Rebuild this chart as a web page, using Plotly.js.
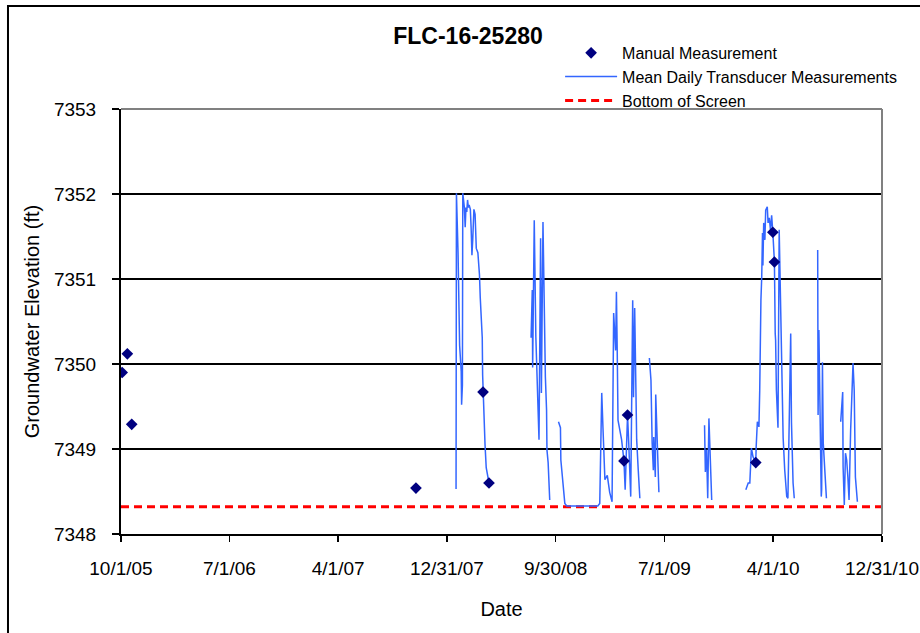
<!DOCTYPE html>
<html>
<head>
<meta charset="utf-8">
<script src="https://cdn.plot.ly/plotly-3.0.1.min.js"></script>
<style>html,body{margin:0;padding:0;background:#fff;}#chart{width:920px;height:633px;}</style>
</head>
<body>
<div id="chart"></div>
<script>
// ---- Data ----
const tickDates = ['2005-10-01','2006-07-01','2007-04-01','2007-12-31','2008-09-30','2009-07-01','2010-04-01','2010-12-31'];
const tickLabels = ['10/1/05','7/1/06','4/1/07','12/31/07','9/30/08','7/1/09','4/1/10','12/31/10'];
const elevationTicks = [7348, 7349, 7350, 7351, 7352, 7353];

const manualDates = ['2005-10-04','2005-10-17','2005-10-28','2007-10-14','2008-03-31','2008-04-15','2009-03-21','2009-03-30','2010-02-16','2010-03-31','2010-04-04'];
const manualValues = [7349.90, 7350.12, 7349.29, 7348.54, 7349.67, 7348.60, 7348.86, 7349.40, 7348.84, 7351.55, 7351.20];

const seg2008aDates = ['2008-01-23','2008-01-24','2008-01-28','2008-02-01','2008-02-05','2008-02-06','2008-02-08','2008-02-09','2008-02-13','2008-02-15','2008-02-17','2008-02-19','2008-02-21','2008-02-23','2008-02-25','2008-02-28','2008-03-01','2008-03-03','2008-03-05','2008-03-08','2008-03-11','2008-03-14','2008-03-18','2008-03-22','2008-03-24','2008-03-26','2008-03-29','2008-03-30','2008-03-31','2008-04-02','2008-04-05','2008-04-08','2008-04-12','2008-04-15'];
const seg2008aValues = [7348.53,7352.01,7351.32,7350.22,7349.91,7349.52,7349.75,7352.01,7351.84,7351.61,7351.84,7351.79,7351.93,7351.84,7351.87,7351.82,7351.60,7351.28,7351.46,7351.82,7351.76,7351.36,7351.31,7351.05,7350.78,7350.54,7350.31,7349.87,7349.67,7349.36,7349.05,7348.78,7348.69,7348.60];

const seg2008bDates = ['2008-07-30','2008-08-02','2008-08-03','2008-08-07','2008-08-11','2008-08-15','2008-08-19','2008-08-23','2008-08-25','2008-08-29','2008-09-01','2008-09-04','2008-09-07','2008-09-08','2008-09-11','2008-09-13','2008-09-15'];
const seg2008bValues = [7350.31,7350.87,7349.96,7351.69,7350.32,7349.69,7349.11,7351.48,7349.66,7351.67,7350.64,7349.85,7349.46,7348.99,7348.84,7348.55,7348.40];

const seg2009aDates = ['2008-10-07','2008-10-12','2008-10-13','2008-10-16','2008-10-19','2008-10-23','2008-10-28','2009-01-14','2009-01-19','2009-01-24','2009-01-27','2009-02-01','2009-02-07','2009-02-09','2009-02-13','2009-02-19','2009-02-22','2009-02-23','2009-02-28','2009-03-02','2009-03-04','2009-03-06','2009-03-15','2009-03-19','2009-03-21','2009-03-24','2009-03-27','2009-03-30','2009-04-02','2009-04-07','2009-04-12','2009-04-14','2009-04-17','2009-04-19','2009-04-22','2009-04-26','2009-04-30'];
const seg2009aValues = [7349.32,7349.25,7348.87,7348.69,7348.52,7348.36,7348.33,7348.33,7348.36,7349.66,7349.26,7348.64,7348.69,7348.60,7348.49,7348.38,7349.54,7350.60,7350.16,7350.85,7350.16,7349.34,7349.11,7348.96,7348.86,7348.52,7348.99,7349.40,7349.07,7348.44,7350.75,7349.61,7350.66,7349.93,7349.11,7348.75,7348.42];

const seg2009bDates = ['2009-05-24','2009-05-28','2009-05-31','2009-06-03','2009-06-04','2009-06-08','2009-06-09','2009-06-13','2009-06-17'];
const seg2009bValues = [7350.07,7349.81,7349.07,7348.75,7349.14,7348.67,7349.64,7348.95,7348.49];

const seg2009cDates = ['2009-10-10','2009-10-12','2009-10-15','2009-10-18','2009-10-21','2009-10-24','2009-10-28'];
const seg2009cValues = [7349.28,7348.73,7348.99,7348.42,7349.36,7348.84,7348.40];

const seg2010aDates = ['2010-01-22','2010-01-28','2010-02-01','2010-02-05','2010-02-09','2010-02-13','2010-02-16','2010-02-17','2010-02-20','2010-02-24','2010-02-26','2010-03-01','2010-03-03','2010-03-05','2010-03-06','2010-03-08','2010-03-11','2010-03-13','2010-03-17','2010-03-19','2010-03-22','2010-03-25','2010-03-28','2010-03-31','2010-04-02','2010-04-04','2010-04-06','2010-04-07','2010-04-09','2010-04-13','2010-04-16','2010-04-19','2010-04-23','2010-04-26','2010-04-30','2010-05-05','2010-05-08','2010-05-15','2010-05-17','2010-05-21','2010-05-24'];
const seg2010aValues = [7348.52,7348.60,7348.60,7349.01,7348.91,7348.87,7348.84,7349.02,7349.32,7349.26,7349.69,7350.75,7351.02,7351.54,7351.16,7351.66,7351.46,7351.81,7351.85,7351.66,7351.72,7351.58,7351.75,7351.55,7351.26,7351.20,7350.36,7350.28,7349.69,7349.25,7351.58,7350.87,7349.69,7349.13,7348.75,7348.44,7348.42,7350.36,7349.31,7348.60,7348.42];

const seg2010bDates = ['2010-07-22','2010-07-23','2010-07-25','2010-07-28','2010-07-31','2010-08-01','2010-08-03','2010-08-05','2010-08-09','2010-08-13'];
const seg2010bValues = [7351.34,7349.40,7350.40,7349.11,7348.44,7348.52,7350.02,7349.07,7348.79,7348.42];

const seg2010cDates = ['2010-09-18','2010-09-23','2010-09-24','2010-09-27','2010-09-30','2010-10-03','2010-10-06','2010-10-09','2010-10-13','2010-10-19','2010-10-22','2010-10-25','2010-10-30'];
const seg2010cValues = [7349.32,7349.67,7348.79,7348.34,7348.95,7348.87,7348.67,7348.40,7349.22,7350.01,7349.69,7348.67,7348.38];

const screenDates = ['2005-10-01','2010-12-31'];
const screenValues = [7348.32, 7348.32];

// ---- Build transducer series with gaps between logging periods ----
const segDates = [seg2008aDates, seg2008bDates, seg2009aDates, seg2009bDates, seg2009cDates, seg2010aDates, seg2010bDates, seg2010cDates];
const segValues = [seg2008aValues, seg2008bValues, seg2009aValues, seg2009bValues, seg2009cValues, seg2010aValues, seg2010bValues, seg2010cValues];
const transX = [], transY = [];
segDates.forEach((d, i) => {
  if (i > 0) { transX.push(null); transY.push(null); }
  d.forEach((v, j) => { transX.push(v); transY.push(segValues[i][j]); });
});

const FONT = 'Liberation Sans, Arial, sans-serif';

const traces = [
  {x: screenDates, y: screenValues, type: 'scatter', mode: 'lines', name: 'Bottom of Screen',
   line: {color: '#FF0000', width: 3, dash: '8px,5px'}, legendrank: 3},
  {x: transX, y: transY, type: 'scatter', mode: 'lines', name: 'Mean Daily Transducer Measurements',
   line: {color: '#3366FF', width: 1.5}, connectgaps: false, legendrank: 2},
  {x: manualDates, y: manualValues, type: 'scatter', mode: 'markers', name: 'Manual Measurement',
   marker: {symbol: 'diamond', color: '#000080', size: 9}, legendrank: 1}
];

const layout = {
  width: 920, height: 633,
  margin: {l: 121, r: 38, t: 109, b: 99},
  paper_bgcolor: '#fff', plot_bgcolor: '#fff',
  font: {family: FONT, color: '#000'},
  title: {text: '<b>FLC-16-25280</b>', font: {family: FONT, size: 23, color: '#000'},
          xref: 'paper', x: 0.456, xanchor: 'center', yref: 'container', y: 0.943, yanchor: 'middle'},
  showlegend: true,
  legend: {x: 0.577, y: 1.172, xanchor: 'left', yanchor: 'top', bgcolor: 'rgba(0,0,0,0)',
           font: {family: FONT, size: 16, color: '#000'}, itemwidth: 52, tracegroupgap: 0},
  xaxis: {
    type: 'date', range: ['2005-10-01', '2010-12-31'],
    tickmode: 'array', tickvals: tickDates, ticktext: tickLabels,
    showgrid: false, zeroline: false,
    showline: true, linecolor: '#000', linewidth: 2,
    ticks: 'outside', ticklen: 6, tickwidth: 1.5, tickcolor: '#000',
    tickfont: {family: FONT, size: 19, color: '#000'},
    ticklabelstandoff: 10,
    title: {text: 'Date', font: {family: FONT, size: 20, color: '#000'}, standoff: 24},
    automargin: false
  },
  yaxis: {
    range: [7348, 7353], tickmode: 'array', tickvals: elevationTicks,
    showgrid: true, gridcolor: '#000', gridwidth: 1.5, zeroline: false,
    showline: true, linecolor: '#000', linewidth: 2,
    ticks: 'outside', ticklen: 7, tickwidth: 1.5, tickcolor: '#000',
    tickfont: {family: FONT, size: 19, color: '#000'},
    ticklabelstandoff: 12,
    title: {text: 'Groundwater Elevation (ft)', font: {family: FONT, size: 20, color: '#000'}, standoff: 9},
    automargin: false
  },
  shapes: [
    {type: 'line', xref: 'paper', yref: 'paper', x0: 0, x1: 1, y0: 1, y1: 1, line: {color: '#808080', width: 2}},
    {type: 'line', xref: 'paper', yref: 'paper', x0: 1, x1: 1, y0: 0, y1: 1, line: {color: '#808080', width: 2}},
    {type: 'rect', xref: 'paper', yref: 'paper', x0: -0.1485, x1: 1.07, y0: -0.25, y1: 1.2424,
     line: {color: '#000', width: 2}, fillcolor: 'rgba(0,0,0,0)', layer: 'below'}
  ]
};

Plotly.newPlot('chart', traces, layout, {displayModeBar: false, staticPlot: true});
</script>
</body>
</html>
